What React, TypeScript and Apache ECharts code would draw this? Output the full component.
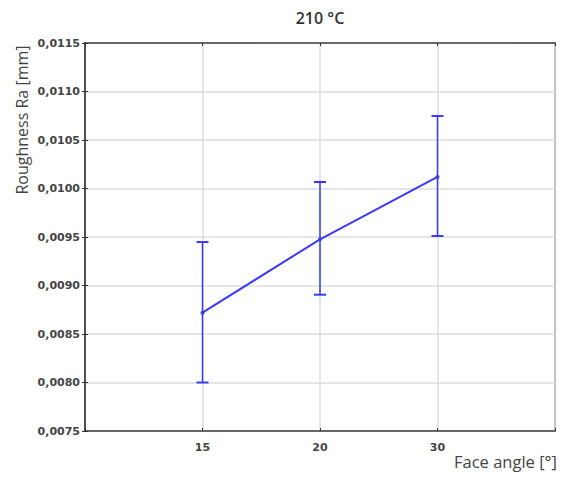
import React, { useEffect, useRef } from "react";
import * as echarts from "echarts";

const titleText = "210 °C";
const yAxisName = "Roughness Ra [mm]";
const xAxisName = "Face angle [°]";
const xCategories = ["15", "20", "30"];
const meanValues = [0.00872, 0.009476, 0.010119];
const lowValues = [0.0080, 0.008905, 0.00951];
const highValues = [0.009448, 0.010067, 0.010747];
const yMin = 0.0075;
const yMax = 0.0115;
const yStep = 0.0005;

const BLUE = "#3b3bf5";
const tickFont = "DejaVu Sans";
const nameFont = "Open Sans";

export default function App() {
  const ref = useRef<HTMLDivElement>(null);
  useEffect(() => {
    if (!ref.current) return;
    const chart = echarts.init(ref.current, null, { renderer: "svg" });
    const lineData = meanValues.map((v, i) => [i + 1, v]);
    const errData = xCategories.map((_, i) => [i + 1, lowValues[i], highValues[i]]);
    const labelFor = (v: number) => {
      const i = Math.round(v) - 1;
      return i >= 0 && i < xCategories.length ? xCategories[i] : "";
    };
    chart.setOption({
      animation: false,
      backgroundColor: "#ffffff",
      grid: {
        left: 85,
        top: 43,
        right: 6,
        bottom: 46,
        show: true,
        borderColor: "#4a4a4a",
        borderWidth: 1.5,
      },
      graphic: [
        {
          type: "text",
          x: 320,
          y: 18,
          style: {
            text: titleText,
            fontFamily: nameFont,
            fontSize: 16,
            fontWeight: 600,
            fill: "#333",
            textAlign: "center",
            textVerticalAlign: "middle",
          },
        },
        {
          type: "text",
          x: 22,
          y: 120,
          rotation: Math.PI / 2,
          style: {
            text: yAxisName,
            fontFamily: nameFont,
            fontSize: 16,
            fill: "#444",
            textAlign: "center",
            textVerticalAlign: "middle",
          },
        },
        {
          type: "text",
          x: 557,
          y: 461,
          style: {
            text: xAxisName,
            fontFamily: nameFont,
            fontSize: 16.5,
            fill: "#444",
            textAlign: "right",
            textVerticalAlign: "middle",
          },
        },
      ],
      xAxis: [
        {
          type: "value",
          min: 0,
          max: 4,
          interval: 1,
          axisLine: { show: true, lineStyle: { color: "#4a4a4a", width: 1.5 } },
          axisTick: { show: true, inside: true, length: 3, lineStyle: { color: "#333" } },
          splitLine: { show: true, lineStyle: { color: "#dcdcdc", width: 1.5 } },
          axisLabel: {
            formatter: labelFor,
            fontFamily: tickFont,
            fontSize: 11,
            fontWeight: "bold",
            color: "#444",
            margin: 11,
          },
        },
        {
          type: "value",
          position: "top",
          min: 0,
          max: 4,
          interval: 1,
          axisLine: { show: true, lineStyle: { color: "#4a4a4a", width: 1.5 } },
          axisTick: { show: true, inside: true, length: 3, lineStyle: { color: "#333" } },
          splitLine: { show: false },
          axisLabel: { show: false },
        },
      ],
      yAxis: [
        {
          type: "value",
          min: yMin,
          max: yMax,
          interval: yStep,
          axisLine: { show: true, lineStyle: { color: "#4a4a4a", width: 1.5 } },
          axisTick: { show: true, inside: true, length: 3, lineStyle: { color: "#333" } },
          splitLine: { show: true, lineStyle: { color: "#dcdcdc", width: 1.5 } },
          axisLabel: {
            formatter: (v: number) => v.toFixed(4).replace(".", ","),
            fontFamily: tickFont,
            fontSize: 11,
            fontWeight: "bold",
            color: "#444",
            margin: 5,
          },
        },
        {
          type: "value",
          position: "right",
          min: yMin,
          max: yMax,
          interval: yStep,
          axisLine: { show: true, lineStyle: { color: "#4a4a4a", width: 1.5 } },
          axisTick: { show: true, inside: true, length: 3, lineStyle: { color: "#333" } },
          splitLine: { show: false },
          axisLabel: { show: false },
        },
      ],
      series: [
        {
          type: "custom",
          xAxisIndex: 0,
          yAxisIndex: 0,
          data: errData,
          z: 3,
          renderItem: (params: any, api: any) => {
            const x = api.value(0);
            const lo = api.coord([x, api.value(1)]);
            const hi = api.coord([x, api.value(2)]);
            const hw = 6;
            const style = { stroke: BLUE, lineWidth: 1.5 };
            return {
              type: "group",
              children: [
                { type: "line", shape: { x1: lo[0], y1: lo[1], x2: hi[0], y2: hi[1] }, style },
                { type: "line", shape: { x1: lo[0] - hw, y1: lo[1], x2: lo[0] + hw, y2: lo[1] }, style: { stroke: BLUE, lineWidth: 2 } },
                { type: "line", shape: { x1: hi[0] - hw, y1: hi[1], x2: hi[0] + hw, y2: hi[1] }, style: { stroke: BLUE, lineWidth: 2 } },
              ],
            };
          },
        },
        {
          type: "line",
          xAxisIndex: 0,
          yAxisIndex: 0,
          data: lineData,
          z: 4,
          symbol: "circle",
          symbolSize: 4,
          itemStyle: { color: BLUE },
          lineStyle: { color: BLUE, width: 2 },
        },
      ],
    });
    return () => chart.dispose();
  }, []);
  return (
    <div
      ref={ref}
      style={{ position: "fixed", left: 0, top: 0, width: 561, height: 477 }}
    />
  );
}
